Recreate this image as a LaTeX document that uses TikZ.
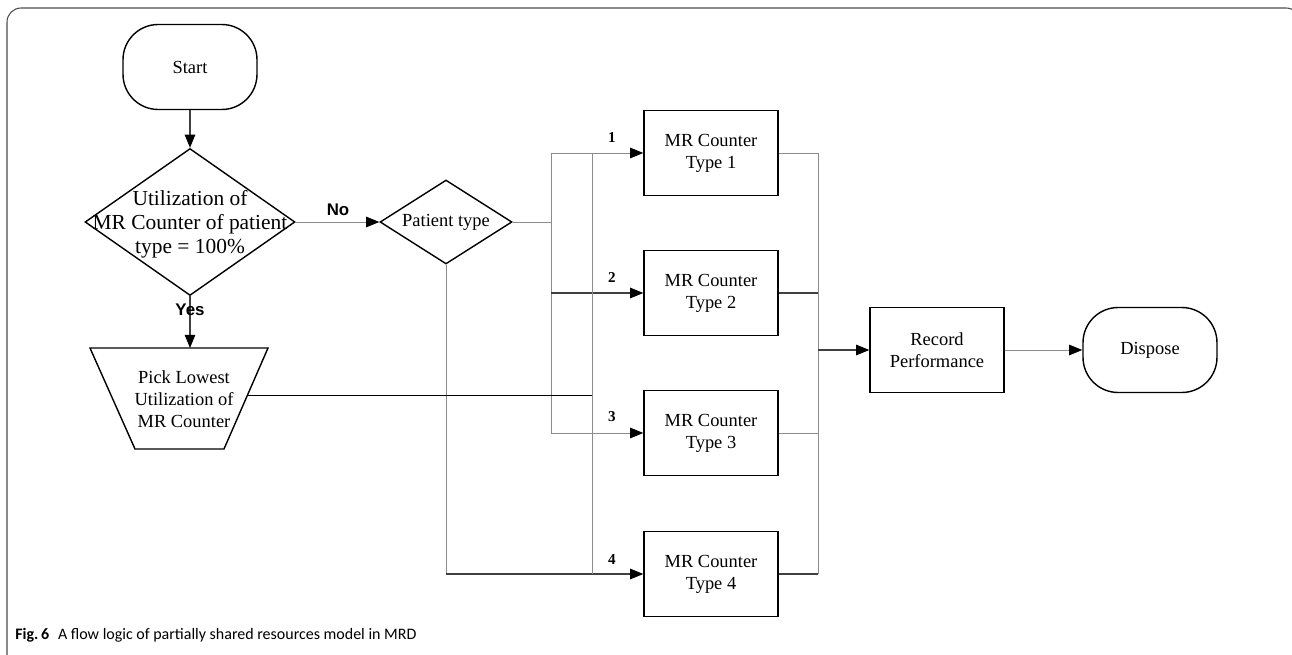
\documentclass[tikz,border=0pt]{standalone}
\usepackage{fontspec}
\setmainfont{Liberation Serif}
\newfontfamily\lblfont{Liberation Sans}
\newfontfamily\capfont{Carlito}
\usetikzlibrary{shapes.geometric,arrows.meta,calc}

\tikzset{
  shapeline/.style={draw=black, line width=0.8pt},
  procbox/.style={shapeline, rectangle, minimum width=2.68cm, minimum height=1.7cm,
    inner sep=0pt, align=center, font=\fontsize{10.5}{12.4}\selectfont},
  termbox/.style={procbox, rounded corners=20pt},
  decbox/.style={shapeline, diamond, inner sep=0pt},
  txt/.style={align=center, inner sep=0pt},
  flowlight/.style={draw=black!45, line width=0.55pt},
  flowdark/.style={draw=black!75, line width=0.6pt},
  tip/.style={-{Triangle[length=7.5pt,width=6pt,color=black]}},
  yesno/.style={inner sep=0pt, font=\lblfont\bfseries\fontsize{9.6}{11}\selectfont},
  branchno/.style={inner sep=0pt, font=\bfseries\fontsize{8.6}{10}\selectfont},
  frameline/.style={draw=black!70, line width=0.6pt, rounded corners=8pt},
}

\begin{document}
\begin{tikzpicture}[x=0.02cm, y=-0.02cm]
\useasboundingbox (0,0) rectangle (1292,655);

% outer frame
\path[frameline] (7,670) -- (7,8) -- (1300,8) -- (1300,670);

% start and first decision
\node[termbox] (start) at (190,67) {Start};
\node[decbox, minimum width=4.2cm, minimum height=2.94cm] (util) at (190,222) {};
\node[txt, font=\fontsize{12.2}{13.6}\selectfont] (utiltxt) at (190,224)
  {Utilization of\\MR Counter of patient\\type = 100\%};

% second decision
\node[decbox, minimum width=2.64cm, minimum height=1.68cm] (ptype) at (446,222) {};
\node[txt, font=\fontsize{10.5}{12.4}\selectfont] (ptypetxt) at (446,222) {Patient type};

% manual operation (trapezoid)
\coordinate (tz1) at (90,348);
\coordinate (tz2) at (268,348);
\coordinate (tz3) at (224,449);
\coordinate (tz4) at (135,449);
\draw[shapeline, line join=miter] (tz1) -- (tz2) -- (tz3) -- (tz4) -- cycle;
\node[txt, font=\fontsize{10.5}{12.6}\selectfont] (picktxt) at (184,399)
  {Pick Lowest\\Utilization of\\MR Counter};
\coordinate (tzR) at ($(tz2)!0.47!(tz3)$);

% counters
\node[procbox] (c1) at (711,153) {MR Counter\\Type 1};
\node[procbox] (c2) at (711,293) {MR Counter\\Type 2};
\node[procbox] (c3) at (711,433) {MR Counter\\Type 3};
\node[procbox] (c4) at (711,574) {MR Counter\\Type 4};

% end of flow
\node[procbox] (rec) at (937,350) {Record\\Performance};
\node[termbox] (disp) at (1150,350) {Dispose};

% bus positions
\coordinate (busA) at (551,222);
\coordinate (busB) at (592,396);
\coordinate (busC) at (818,350);

% connectors
\draw[flowdark, tip] (start) -- (util);
\draw[flowlight, tip] (util.east) -- (ptype.west);
\node[yesno] (no) at (338,210) {No};
\draw[flowdark, tip] (util.south) -- (util.south |- tz1);
\node[yesno] (yes) at (190,310) {Yes};

\draw[flowlight] (ptype.east) -- (busA);
\draw[flowlight] (busA |- c1.west) -- (busA |- c3.west);
\draw[flowlight, tip] (busA |- c1.west) -- (c1.west);
\draw[flowdark, tip] (busA |- c2.west) -- (c2.west);
\draw[flowlight, tip] (busA |- c3.west) -- (c3.west);
\draw[flowlight] (ptype.south) -- (ptype.south |- c4.west);
\draw[flowdark, tip] (ptype.south |- c4.west) -- (c4.west);

\draw[black, line width=1pt] (tzR) -- (busB |- tzR);
\draw[flowlight] (busB |- c1.west) -- (busB |- c4.west);

\draw[flowlight] (c1.east) -- (busC |- c1.east) -- (busC |- c4.east);
\draw[flowdark] (c2.east) -- (busC |- c2.east);
\draw[flowlight] (c3.east) -- (busC |- c3.east);
\draw[flowdark] (c4.east) -- (busC |- c4.east);
\draw[flowdark, tip] (busC |- rec.west) -- (rec.west);
\draw[flowlight, tip] (rec.east) -- (disp.west);

% branch numbers
\node[branchno] (n1) at (612,138) {1};
\node[branchno] (n2) at (612,277) {2};
\node[branchno] (n3) at (612,417) {3};
\node[branchno] (n4) at (612,560) {4};

% caption
\node[anchor=base west, inner sep=0pt, font=\capfont\fontsize{9.1}{10}\selectfont]
  (cap) at (15,639) {\textbf{Fig.\,6}\hspace{0.55em}A flow logic of partially shared resources model in MRD};
\end{tikzpicture}
\end{document}
